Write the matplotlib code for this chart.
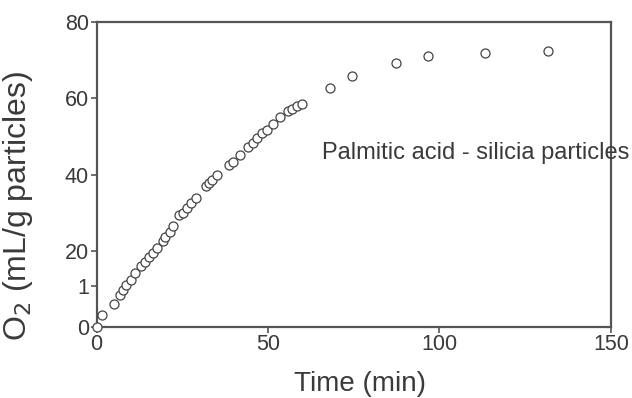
import matplotlib
matplotlib.use("Agg")
import matplotlib.pyplot as plt

plt.rcParams['font.family'] = ['Liberation Sans', 'DejaVu Sans']

time_min = [0, 1.6, 5.1, 6.8, 7.6, 8.6, 10.0, 11.3, 12.9, 14.2, 15.4, 16.4, 17.7,
            19.3, 20.0, 21.4, 22.4, 24.1, 25.1, 26.3, 27.6, 29.0, 31.8, 32.8, 33.8,
            35.2, 38.6, 39.8, 41.8, 44.3, 45.5, 46.8, 48.2, 49.7, 51.6, 53.5, 55.8,
            57.1, 58.5, 59.9, 68.2, 74.5, 87.2, 96.6, 113.2, 131.7]
o2 = [0, 3.2, 6.1, 8.3, 9.6, 10.9, 12.4, 14.2, 15.9, 17.1, 18.2, 19.3, 20.8,
      22.6, 23.5, 24.9, 26.4, 29.3, 29.8, 31.1, 32.4, 33.8, 37.0, 37.8, 38.6,
      40.0, 42.6, 43.3, 45.0, 47.3, 48.4, 49.6, 50.8, 51.8, 53.3, 55.0, 56.6,
      57.3, 58.0, 58.6, 62.7, 65.9, 69.4, 71.1, 71.9, 72.4]

x_ticks = [0, 50, 100, 150]
y_ticks = [0, 10.7, 20, 40, 60, 80]
y_tick_labels = ["0", "1", "20", "40", "60", "80"]
annotation = "Palmitic acid - silicia particles"

fig = plt.figure(figsize=(6.32, 3.98), dpi=100)
ax = fig.add_axes([0.1527, 0.179, 0.814, 0.765])

ax.plot(time_min, o2, linestyle='none', marker='o', markersize=6.5,
        markerfacecolor='white', markeredgecolor='#444444', markeredgewidth=0.9,
        clip_on=False, zorder=3)

ax.set_xlim(0, 150)
ax.set_ylim(0, 80)
ax.set_xticks(x_ticks)
ax.set_yticks(y_ticks)
ax.set_yticklabels(y_tick_labels)

for s in ax.spines.values():
    s.set_color('#555555')
    s.set_linewidth(1.6)

ax.tick_params(direction='out', length=4, width=1.2, color='#555555',
               labelsize=15.5, labelcolor='#3a3a3a', pad=1.5)

ax.set_xlabel("Time (min)", fontsize=20, color='#3a3a3a')
ax.xaxis.set_label_coords(0.512, -0.145)
ax.set_ylabel(r"O$_2$ (mL/g particles)", fontsize=23, color='#3a3a3a')
ax.yaxis.set_label_coords(-0.12, 0.396)

ax.text(65.7, 45.6, annotation, fontsize=17, color='#3a3a3a', va='center', ha='left')

fig.savefig("out.png", dpi=100)
